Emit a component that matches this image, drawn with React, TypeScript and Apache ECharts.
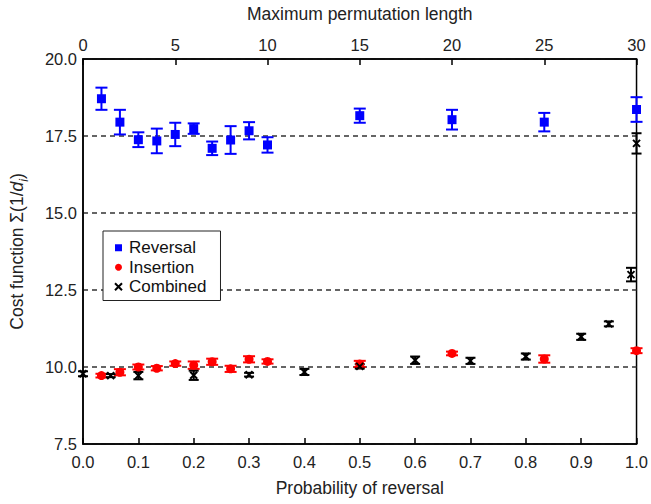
import React, { useEffect, useRef } from "react";
import * as echarts from "echarts";

const topTicks = [0, 5, 10, 15, 20, 25, 30];
const permLengths = [1, 2, 3, 4, 5, 6, 7, 8, 9, 10, 15, 20, 25, 30];
const reversalY = [18.71, 17.95, 17.38, 17.34, 17.55, 17.74, 17.1, 17.37, 17.67, 17.21, 18.16, 18.03, 17.95, 18.36];
const reversalErr = [0.36, 0.4, 0.24, 0.4, 0.38, 0.17, 0.22, 0.45, 0.28, 0.25, 0.23, 0.32, 0.3, 0.4];
const insertionY = [9.72, 9.83, 10.0, 9.96, 10.11, 10.06, 10.17, 9.94, 10.25, 10.18, 10.1, 10.44, 10.26, 10.53];
const insertionErr = [0.06, 0.1, 0.08, 0.07, 0.07, 0.12, 0.1, 0.1, 0.1, 0.07, 0.1, 0.06, 0.12, 0.08];
const probReversal = [0, 0.05, 0.1, 0.2, 0.3, 0.4, 0.5, 0.6, 0.7, 0.8, 0.9, 0.95, 0.99, 1.0];
const combinedY = [9.78, 9.72, 9.72, 9.73, 9.75, 9.84, 10.02, 10.22, 10.2, 10.34, 10.98, 11.4, 13.0, 17.26];
const combinedErr = [0.08, 0.05, 0.12, 0.15, 0.06, 0.1, 0.07, 0.12, 0.1, 0.1, 0.1, 0.08, 0.22, 0.33];

const FONT = "'Liberation Sans', Arial, sans-serif";
const XPATH = "path://M0,0L10,10M10,0L0,10";

function errorBars(name: string, xs: number[], ys: number[], errs: number[], color: string, xAxisIndex: number, cap: number) {
  return {
    type: "custom",
    name: name + "-err",
    xAxisIndex,
    yAxisIndex: 0,
    z: 2,
    silent: true,
    data: xs.map((x, i) => [x, ys[i], errs[i]]),
    renderItem: (params: any, api: any) => {
      const x = api.value(0);
      const y = api.value(1);
      const e = api.value(2);
      const top = api.coord([x, y + e]);
      const bot = api.coord([x, y - e]);
      const style = { stroke: color, lineWidth: 2, fill: "none" };
      return {
        type: "group",
        children: [
          { type: "line", shape: { x1: top[0], y1: top[1], x2: bot[0], y2: bot[1] }, style },
          { type: "line", shape: { x1: top[0] - cap, y1: top[1], x2: top[0] + cap, y2: top[1] }, style },
          { type: "line", shape: { x1: bot[0] - cap, y1: bot[1], x2: bot[0] + cap, y2: bot[1] }, style },
        ],
      };
    },
  };
}

export default function App() {
  const ref = useRef<HTMLDivElement>(null);
  useEffect(() => {
    if (!ref.current) return;
    const chart = echarts.init(ref.current, null, { renderer: "svg" });
    const axisLabel = { fontSize: 16.5, color: "#222", fontFamily: FONT };
    const titleStyle = { fontSize: 17.5, color: "#222", fontFamily: FONT };
    chart.setOption({
      animation: false,
      backgroundColor: "#fff",
      textStyle: { fontFamily: FONT },
      grid: {
        left: 80,
        right: 14,
        top: 56,
        bottom: 60,
        show: true,
        borderColor: "#000",
        borderWidth: 1.5,
        backgroundColor: "transparent",
      },
      legend: {
        orient: "vertical",
        left: 103,
        top: 231,
        padding: [8, 14, 5, 11],
        itemGap: 2,
        itemWidth: 7,
        itemHeight: 7,
        borderColor: "#222",
        borderWidth: 1,
        backgroundColor: "#fff",
        textStyle: { fontSize: 17, color: "#111", fontFamily: FONT, padding: [0, 0, 0, 2], lineHeight: 17.5 },
        data: [
          { name: "Reversal", icon: "rect" },
          { name: "Insertion", icon: "circle" },
          { name: "Combined", icon: XPATH },
        ],
      },
      xAxis: [
        {
          type: "value",
          position: "bottom",
          min: 0,
          max: 1,
          interval: 0.1,
          name: "Probability of reversal",
          nameLocation: "middle",
          nameGap: 35,
          nameTextStyle: titleStyle,
          axisLine: { show: true, onZero: false, lineStyle: { color: "#000", width: 1.5 } },
          axisTick: { show: true, inside: true, length: 6, lineStyle: { color: "#000", width: 1.5 } },
          axisLabel: { ...axisLabel, margin: 9, formatter: (v: number) => v.toFixed(1) },
          splitLine: { show: false },
        },
        {
          type: "value",
          position: "top",
          min: 0,
          max: 30,
          interval: 5,
          name: "Maximum permutation length",
          nameLocation: "middle",
          nameGap: 36,
          nameTextStyle: titleStyle,
          axisLine: { show: true, onZero: false, lineStyle: { color: "#000", width: 1.5 } },
          axisTick: { show: true, inside: true, length: 6, lineStyle: { color: "#000", width: 1.5 } },
          axisLabel: {
            ...axisLabel,
            margin: 6,
            formatter: (v: number) => (topTicks.includes(v) ? String(v) : ""),
          },
          splitLine: { show: false },
        },
      ],
      yAxis: {
        type: "value",
        min: 7.5,
        max: 20,
        interval: 2.5,
        name: "{n|Cost function Σ(1/}{it|d}{sub|i}{n|)}",
        nameLocation: "middle",
        nameGap: 53,
        nameTextStyle: {
          ...titleStyle,
          rich: {
            n: { ...titleStyle, lineHeight: 26, verticalAlign: "middle" },
            it: { ...titleStyle, fontStyle: "italic", lineHeight: 26, verticalAlign: "middle" },
            sub: { fontSize: 12, color: "#222", fontFamily: FONT, fontStyle: "italic", lineHeight: 26, verticalAlign: "bottom" },
          },
        },
        axisLine: { show: true, lineStyle: { color: "#000", width: 1.5 } },
        axisTick: { show: false },
        axisLabel: { ...axisLabel, margin: 6, formatter: (v: number) => v.toFixed(1) },
        splitLine: { show: true, lineStyle: { color: "#333", width: 1.5, type: [5, 4] } },
      },
      series: [
        errorBars("Reversal", permLengths, reversalY, reversalErr, "#0000ff", 1, 6),
        errorBars("Insertion", permLengths, insertionY, insertionErr, "#ff0000", 1, 6),
        errorBars("Combined", probReversal, combinedY, combinedErr, "#000000", 0, 5),
        {
          type: "scatter",
          name: "Reversal",
          xAxisIndex: 1,
          z: 3,
          symbol: "rect",
          symbolSize: 9,
          itemStyle: { color: "#0000ff", opacity: 1 },
          data: permLengths.map((x, i) => [x, reversalY[i]]),
        },
        {
          type: "scatter",
          name: "Insertion",
          xAxisIndex: 1,
          z: 3,
          symbol: "circle",
          symbolSize: 9,
          itemStyle: { color: "#ff0000", opacity: 1 },
          data: permLengths.map((x, i) => [x, insertionY[i]]),
        },
        {
          type: "scatter",
          name: "Combined",
          xAxisIndex: 0,
          z: 4,
          symbol: XPATH,
          symbolSize: 7,
          itemStyle: { color: "#000", borderColor: "#000", borderWidth: 2, opacity: 1 },
          data: probReversal.map((x, i) => [x, combinedY[i]]),
        },
      ],
    });
    return () => chart.dispose();
  }, []);
  return <div ref={ref} style={{ position: "fixed", left: 0, top: 0, width: 651, height: 504 }} />;
}
